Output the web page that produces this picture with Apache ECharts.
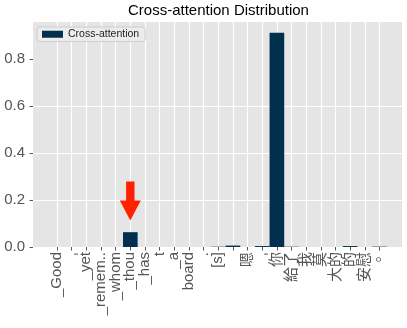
<!DOCTYPE html>
<html><head><meta charset="utf-8">
<script src="https://cdn.jsdelivr.net/npm/echarts@6/dist/echarts.min.js"></script>
<style>html,body{margin:0;padding:0;background:#fff}#c{width:407px;height:328px}</style>
</head><body><div id="c"></div>
<script>
const categories = ['_Good', ',', '_yet', '_remem..', '_whom', '_thou', '_has', 't', '_a', 'board', '.', '[s]', '', '嗯', ',', '你', '給了', '我', '莫', '大的', '的', '安慰', '。'];
const attention = [0, 0, 0, 0, 0, 0.063, 0, 0, 0, 0, 0, 0.0012, 0.006, 0, 0.004, 0.911, 0.0012, 0, 0, 0, 0.004, 0, 0.0015];
const yTicks = [0, 0.2, 0.4, 0.6, 0.8];
const yMax = 0.957;
const arrowCategory = 5;
const arrowValue = 0.196;

const FONT = "'Liberation Sans', 'Noto Sans CJK TC', sans-serif";
const chart = echarts.init(document.getElementById('c'), null, {renderer: 'canvas'});
chart.setOption({
  animation: false,
  backgroundColor: '#ffffff',
  textStyle: {fontFamily: FONT},
  title: {
    text: 'Cross-attention Distribution', left: 128, top: 3, padding: 0,
    textStyle: {fontFamily: FONT, fontSize: 15, fontWeight: 'normal', color: '#000'}
  },
  legend: {
    left: 37, top: 27, padding: [2, 6, 2, 5],
    itemWidth: 21, itemHeight: 7, icon: 'rect',
    backgroundColor: 'rgba(236,236,236,0.9)', borderColor: '#cccccc', borderWidth: 1, borderRadius: 3,
    textStyle: {fontFamily: FONT, fontSize: 10.5, color: '#222'},
    data: ['Cross-attention']
  },
  grid: [
    {left: 33, right: 5, top: 22, bottom: 81, show: true, backgroundColor: '#E5E5E5', borderWidth: 0},
    {left: 49.67, right: 20.15, top: 22, bottom: 81, show: false}
  ],
  xAxis: [
    {gridIndex: 0, type: 'value', min: 0, max: 1, show: false},
    {gridIndex: 1, type: 'category', data: categories,
     axisLine: {show: false},
     axisTick: {show: true, alignWithLabel: true, length: 3.5, lineStyle: {color: '#555', width: 1}},
     axisLabel: {interval: 0, rotate: 90, margin: 5, fontSize: 15, color: '#555', fontFamily: FONT},
     splitLine: {show: true, alignWithLabel: true, interval: 0, lineStyle: {color: '#ffffff', width: 1.2}}
    }
  ],
  yAxis: [
    {gridIndex: 0, type: 'value', min: 0, max: yMax, interval: 0.2,
     axisLine: {show: false},
     axisTick: {show: true, length: 3.5, lineStyle: {color: '#555'}, customValues: yTicks},
     axisLabel: {fontSize: 15, color: '#555', margin: 8, fontFamily: FONT, customValues: yTicks,
                 formatter: v => v.toFixed(1)},
     splitLine: {show: true, showMaxLine: false, lineStyle: {color: '#ffffff', width: 1.2}}
    },
    {gridIndex: 1, type: 'value', min: 0, max: yMax, show: false, splitLine: {show: false}}
  ],
  series: [{
    name: 'Cross-attention', type: 'bar', xAxisIndex: 1, yAxisIndex: 1,
    data: attention, barWidth: '100%',
    itemStyle: {color: '#01304F'},
    markPoint: {
      silent: true,
      data: [{coord: [arrowCategory, arrowValue]}],
      symbol: 'path://M6,0 L14,0 L14,19 L20,19 L10,39 L0,19 L6,19 Z',
      symbolSize: [21, 39], symbolKeepAspect: false,
      itemStyle: {color: '#FF2200'},
      label: {show: false}
    }
  }]
});
</script></body></html>
